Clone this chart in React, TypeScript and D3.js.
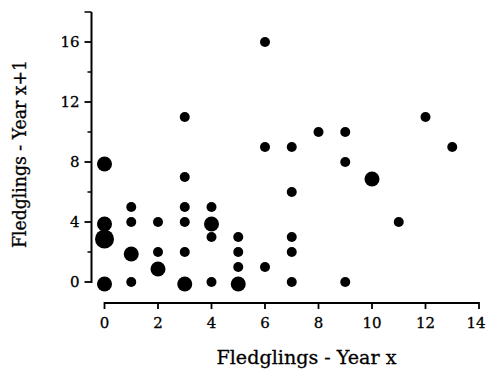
import React, { useEffect, useRef } from "react";
import * as d3 from "d3";

const xVals = [0, 0, 0, 0, 1, 1, 1, 1, 2, 2, 2, 3, 3, 3, 3, 3, 3, 4, 4, 4, 4, 5, 5, 5, 5, 6, 6, 6, 7, 7, 7, 7, 7, 8, 9, 9, 9, 10, 11, 12, 13];
const yVals = [0, 3, 4, 8, 0, 2, 4, 5, 1, 2, 4, 0, 2, 4, 5, 7, 11, 0, 3, 4, 5, 0, 1, 2, 3, 1, 9, 16, 0, 2, 3, 6, 9, 10, 0, 8, 10, 7, 4, 11, 9];
const counts = [2, 3, 2, 2, 1, 2, 1, 1, 2, 1, 1, 2, 1, 1, 1, 1, 1, 1, 1, 2, 1, 2, 1, 1, 1, 1, 1, 1, 1, 1, 1, 1, 1, 1, 1, 1, 1, 2, 1, 1, 1];

const xTicks = [0, 2, 4, 6, 8, 10, 12, 14];
const yTicks = [0, 4, 8, 12, 16];
const yMinorTicks = [2, 6, 10, 14, 18];

const xTitle = "Fledglings - Year x";
const yTitle = "Fledglings - Year x+1";

const W = 487;
const H = 369;
const FONT = "'DejaVu Serif', serif";

export default function App() {
  const ref = useRef<SVGSVGElement>(null);

  useEffect(() => {
    const svg = d3.select(ref.current);
    svg.selectAll("*").remove();

    const x = d3.scaleLinear().domain([0, 14]).range([104.5, 479]);
    const y = d3.scaleLinear().domain([0, 18]).range([282, 12]);
    const r = d3.scaleLinear().domain([1, 2, 3]).range([5, 7.5, 9.5]);

    // x axis
    const xAxisY = 303;
    const gx = svg.append("g").attr("transform", `translate(0,${xAxisY})`);
    gx.append("line")
      .attr("x1", x(0)).attr("x2", x(14))
      .attr("stroke", "#000").attr("stroke-width", 2);
    gx.selectAll("line.t").data(xTicks).enter().append("line")
      .attr("class", "t")
      .attr("x1", (d) => x(d)).attr("x2", (d) => x(d))
      .attr("y1", -1).attr("y2", 6)
      .attr("stroke", "#000").attr("stroke-width", 1.8);
    gx.selectAll("text").data(xTicks).enter().append("text")
      .attr("x", (d) => (d === 14 ? Math.min(x(d), 476) : x(d))).attr("y", 25)
      .attr("text-anchor", "middle")
      .attr("font-family", FONT).attr("font-size", 15)
      .attr("stroke", "#000").attr("stroke-width", 0.3)
      .text((d) => String(d));

    // y axis
    const yAxisX = 91.5;
    const gy = svg.append("g").attr("transform", `translate(${yAxisX},0)`);
    gy.append("line")
      .attr("y1", y(0) + 1).attr("y2", y(18))
      .attr("stroke", "#000").attr("stroke-width", 2);
    gy.selectAll("line.t").data(yTicks).enter().append("line")
      .attr("class", "t")
      .attr("y1", (d) => y(d)).attr("y2", (d) => y(d))
      .attr("x1", -7).attr("x2", 0)
      .attr("stroke", "#000").attr("stroke-width", 1.8);
    gy.selectAll("line.m").data(yMinorTicks).enter().append("line")
      .attr("class", "m")
      .attr("y1", (d) => y(d)).attr("y2", (d) => y(d))
      .attr("x1", (d) => (d === 18 ? -7 : -4)).attr("x2", 0)
      .attr("stroke", "#000").attr("stroke-width", 1.5);
    gy.selectAll("text").data(yTicks).enter().append("text")
      .attr("x", -12).attr("y", (d) => y(d))
      .attr("dy", "0.36em")
      .attr("text-anchor", "end")
      .attr("font-family", FONT).attr("font-size", 15)
      .attr("stroke", "#000").attr("stroke-width", 0.3)
      .text((d) => String(d));

    // titles
    svg.append("text")
      .attr("x", 306.5).attr("y", 364)
      .attr("text-anchor", "middle")
      .attr("font-family", FONT).attr("font-size", 19)
      .attr("textLength", 180).attr("lengthAdjust", "spacingAndGlyphs")
      .attr("stroke", "#000").attr("stroke-width", 0.3)
      .text(xTitle);
    svg.append("text")
      .attr("transform", `translate(26,154) rotate(-90)`)
      .attr("text-anchor", "middle")
      .attr("font-family", FONT).attr("font-size", 19)
      .attr("textLength", 188).attr("lengthAdjust", "spacingAndGlyphs")
      .attr("stroke", "#000").attr("stroke-width", 0.3)
      .text(yTitle);

    // points
    const data = xVals.map((v, i) => ({ x: v, y: yVals[i], n: counts[i] }));
    svg.append("g").selectAll("circle").data(data).enter().append("circle")
      .attr("cx", (d) => x(d.x))
      .attr("cy", (d) => y(d.y) + (d.n > 1 ? 2 : 0))
      .attr("r", (d) => r(d.n))
      .attr("fill", "#000");
  }, []);

  return (
    <svg
      ref={ref}
      width={W}
      height={H}
      style={{ position: "absolute", left: 0, top: 0, background: "#fff" }}
    />
  );
}
